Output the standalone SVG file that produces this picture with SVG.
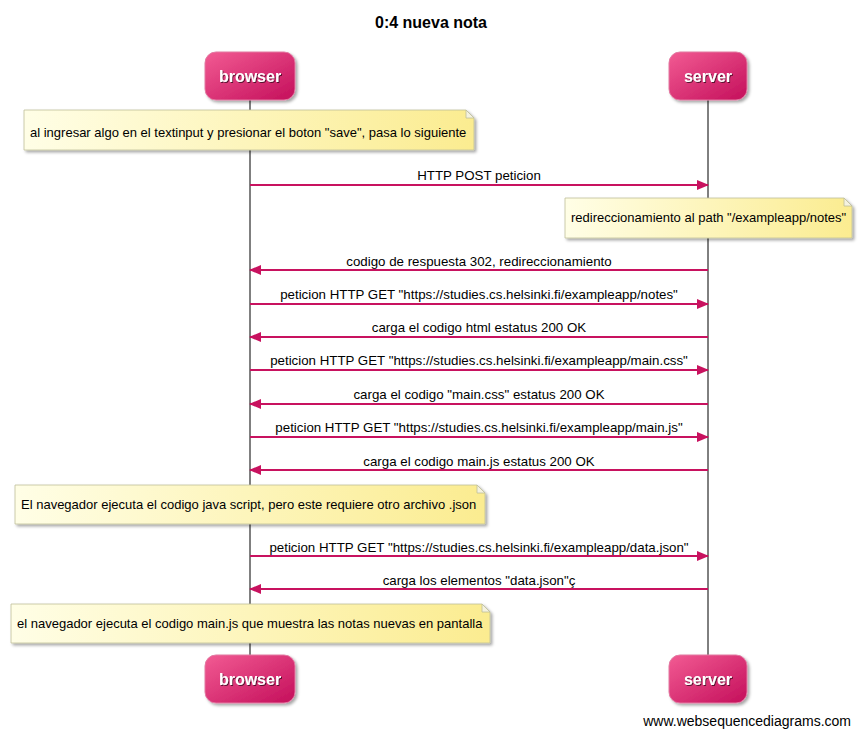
<svg xmlns="http://www.w3.org/2000/svg" width="861" height="737" viewBox="0 0 861 737">
<defs>
<linearGradient id="pg" x1="0" y1="0" x2="1" y2="1">
<stop offset="0" stop-color="#f25b93"/>
<stop offset="1" stop-color="#c40f5b"/>
</linearGradient>
<linearGradient id="ng" x1="0" y1="0" x2="1" y2="0">
<stop offset="0" stop-color="#fffee6"/>
<stop offset="1" stop-color="#fbec90"/>
</linearGradient>
<filter id="sh" x="-10%" y="-10%" width="130%" height="140%">
<feDropShadow dx="2" dy="2" stdDeviation="1.5" flood-color="#000" flood-opacity="0.35"/>
</filter>
<filter id="ts" x="-10%" y="-20%" width="130%" height="150%">
<feDropShadow dx="1" dy="1" stdDeviation="0.6" flood-color="#000" flood-opacity="0.6"/>
</filter>
<marker id="ah" markerWidth="12" markerHeight="10" refX="11" refY="5" orient="auto" markerUnits="userSpaceOnUse">
<path d="M0,0 L12,5 L0,10 Z" fill="#c8125f"/>
</marker>
</defs>
<style>
.t{font-family:"Liberation Sans",Arial,sans-serif;font-size:13px;fill:#000}
.m{font-family:"Liberation Sans",Arial,sans-serif;font-size:13.3px;fill:#000}
.title{font-family:"Liberation Sans",Arial,sans-serif;font-size:16px;font-weight:bold;fill:#000}
.pt{font-family:"Liberation Sans",Arial,sans-serif;font-size:16px;font-weight:bold;fill:#fff}
.part{fill:url(#pg);stroke:#e27aa2;stroke-width:1}
.note{fill:url(#ng);stroke:#bfbf9a;stroke-width:0.8}
.fold{fill:#f4f2e0;stroke:#bfbf9a;stroke-width:0.8}
.life{stroke:#000;stroke-width:1}
.msg{stroke:#c8125f;stroke-width:2;fill:none;marker-end:url(#ah)}
</style>
<rect width="861" height="737" fill="#fff"/>
<text class="title" x="431" y="28" text-anchor="middle">0:4 nueva nota</text>

<g id="lifelines">
<line class="life" x1="250" y1="100" x2="250" y2="655"/>
<line class="life" x1="708" y1="100" x2="708" y2="655"/>
</g>

<g id="browser-top">
<rect class="part" x="205" y="52" width="90" height="48" rx="11" filter="url(#sh)"/>
<text class="pt" x="250" y="82" text-anchor="middle" filter="url(#ts)">browser</text>
</g>
<g id="server-top">
<rect class="part" x="669" y="52" width="78" height="48" rx="11" filter="url(#sh)"/>
<text class="pt" x="708" y="82" text-anchor="middle" filter="url(#ts)">server</text>
</g>
<g id="browser-bottom">
<rect class="part" x="205" y="655" width="90" height="48" rx="11" filter="url(#sh)"/>
<text class="pt" x="250" y="685" text-anchor="middle" filter="url(#ts)">browser</text>
</g>
<g id="server-bottom">
<rect class="part" x="669" y="655" width="78" height="48" rx="11" filter="url(#sh)"/>
<text class="pt" x="708" y="685" text-anchor="middle" filter="url(#ts)">server</text>
</g>

<g id="note1">
<path class="note" d="M24,110 H466 L474,118 V150 H24 Z" filter="url(#sh)"/>
<path class="fold" d="M466,110 V118 H474 Z"/>
<text class="t" x="30" y="137">al ingresar algo en el textinput y presionar el boton "save", pasa lo siguiente</text>
</g>
<g id="note2">
<path class="note" d="M565,198 H844 L852,206 V238 H565 Z" filter="url(#sh)"/>
<path class="fold" d="M844,198 V206 H852 Z"/>
<text class="t" x="571" y="222">redireccionamiento al path "/exampleapp/notes"</text>
</g>
<g id="note3">
<path class="note" d="M15,485 H477 L485,493 V524 H15 Z" filter="url(#sh)"/>
<path class="fold" d="M477,485 V493 H485 Z"/>
<text class="t" x="21" y="509">El navegador ejecuta el codigo java script, pero este requiere otro archivo .json</text>
</g>
<g id="note4">
<path class="note" d="M11,604 H482 L490,612 V643 H11 Z" filter="url(#sh)"/>
<path class="fold" d="M482,604 V612 H490 Z"/>
<text class="t" x="17" y="628">el navegador ejecuta el codigo main.js que muestra las notas nuevas en pantalla</text>
</g>

<g id="connectors">
<line class="msg" x1="250" y1="185" x2="708" y2="185"/>
<text class="m" x="479" y="180" text-anchor="middle">HTTP POST peticion</text>
<line class="msg" x1="708" y1="270" x2="250" y2="270"/>
<text class="m" x="479" y="266" text-anchor="middle">codigo de respuesta 302, redireccionamiento</text>
<line class="msg" x1="250" y1="304" x2="708" y2="304"/>
<text class="m" x="479" y="299" text-anchor="middle">peticion HTTP GET "https://studies.cs.helsinki.fi/exampleapp/notes"</text>
<line class="msg" x1="708" y1="337" x2="250" y2="337"/>
<text class="m" x="479" y="332" text-anchor="middle">carga el codigo html estatus 200 OK</text>
<line class="msg" x1="250" y1="370" x2="708" y2="370"/>
<text class="m" x="479" y="365" text-anchor="middle">peticion HTTP GET "https://studies.cs.helsinki.fi/exampleapp/main.css"</text>
<line class="msg" x1="708" y1="404" x2="250" y2="404"/>
<text class="m" x="479" y="399" text-anchor="middle">carga el codigo "main.css" estatus 200 OK</text>
<line class="msg" x1="250" y1="437" x2="708" y2="437"/>
<text class="m" x="479" y="432" text-anchor="middle">peticion HTTP GET "https://studies.cs.helsinki.fi/exampleapp/main.js"</text>
<line class="msg" x1="708" y1="470" x2="250" y2="470"/>
<text class="m" x="479" y="466" text-anchor="middle">carga el codigo main.js estatus 200 OK</text>
<line class="msg" x1="250" y1="556" x2="708" y2="556"/>
<text class="m" x="479" y="552" text-anchor="middle">peticion HTTP GET "https://studies.cs.helsinki.fi/exampleapp/data.json"</text>
<line class="msg" x1="708" y1="589" x2="250" y2="589"/>
<text class="m" x="479" y="585" text-anchor="middle">carga los elementos "data.json"ç</text>
</g>

<text class="t" x="851" y="726" text-anchor="end" style="font-size:14px">www.websequencediagrams.com</text>
</svg>
